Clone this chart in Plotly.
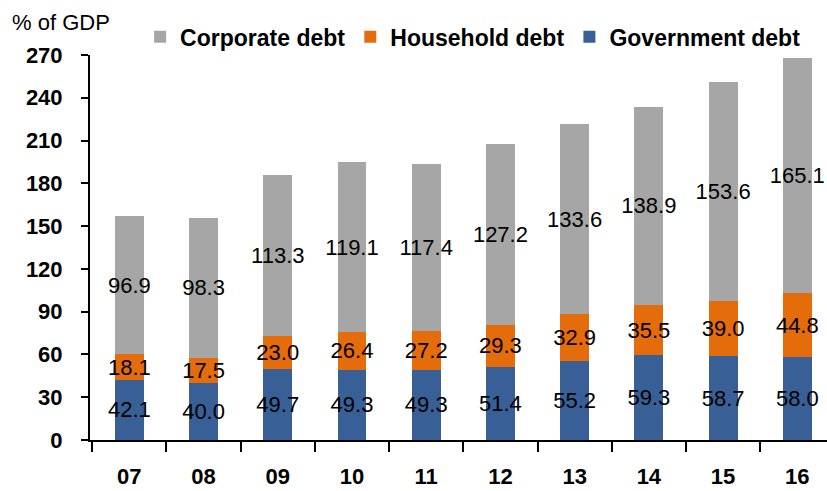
import plotly.graph_objects as go

years = ["07", "08", "09", "10", "11", "12", "13", "14", "15", "16"]
government = [42.1, 40.0, 49.7, 49.3, 49.3, 51.4, 55.2, 59.3, 58.7, 58.0]
household = [18.1, 17.5, 23.0, 26.4, 27.2, 29.3, 32.9, 35.5, 39.0, 44.8]
corporate = [96.9, 98.3, 113.3, 119.1, 117.4, 127.2, 133.6, 138.9, 153.6, 165.1]
y_ticks = [0, 30, 60, 90, 120, 150, 180, 210, 240, 270]

FONT = "Liberation Sans, Arial, sans-serif"

fig = go.Figure()
series = [
    ("Government debt", government, "#386097"),
    ("Household debt", household, "#E46C0A"),
    ("Corporate debt", corporate, "#A6A6A6"),
]
for name, vals, col in series:
    fig.add_trace(go.Bar(
        x=years, y=vals, name=name, marker=dict(color=col, line=dict(width=0)),
        text=[f"{v:.1f}" for v in vals], textposition="inside",
        insidetextanchor="middle", textangle=0, constraintext="none",
        textfont=dict(family=FONT, size=22, color="#000000"),
        cliponaxis=False,
    ))

fig.update_layout(
    width=827, height=491,
    barmode="stack", bargap=0.61,
    paper_bgcolor="white", plot_bgcolor="white",
    margin=dict(l=90, r=0, t=55, b=51, autoexpand=False),
    font=dict(family=FONT, color="#000000"),
    legend=dict(
        orientation="h", traceorder="reversed",
        x=0.068, xanchor="left", y=1.047, yanchor="middle",
        font=dict(family=FONT, size=23, color="#000000", weight="bold"),
        bgcolor="rgba(0,0,0,0)",
    ),
    annotations=[dict(
        text="% of GDP", xref="paper", yref="paper", x=-0.108, y=1.085,
        xanchor="left", yanchor="middle", showarrow=False,
        font=dict(family=FONT, size=22, color="#000000"),
    )],
)
fig.update_xaxes(
    type="category", range=[-0.53, 9.4], tickson="boundaries",
    showline=True, linecolor="black", linewidth=2,
    ticks="outside", ticklen=10, tickwidth=2, tickcolor="black",
    ticklabelstandoff=16,
    tickfont=dict(family=FONT, size=22, color="#000000", weight="bold"),
    showgrid=False, zeroline=False,
)
fig.update_yaxes(
    range=[0, 270], tickvals=y_ticks,
    showline=True, linecolor="black", linewidth=2,
    ticks="outside", ticklen=7, tickwidth=2, tickcolor="black",
    ticklabelstandoff=14,
    tickfont=dict(family=FONT, size=22, color="#000000", weight="bold"),
    showgrid=False, zeroline=False,
)

fig.write_html("out.html", config={"displayModeBar": False},
               post_script="document.body.style.margin='0';")
